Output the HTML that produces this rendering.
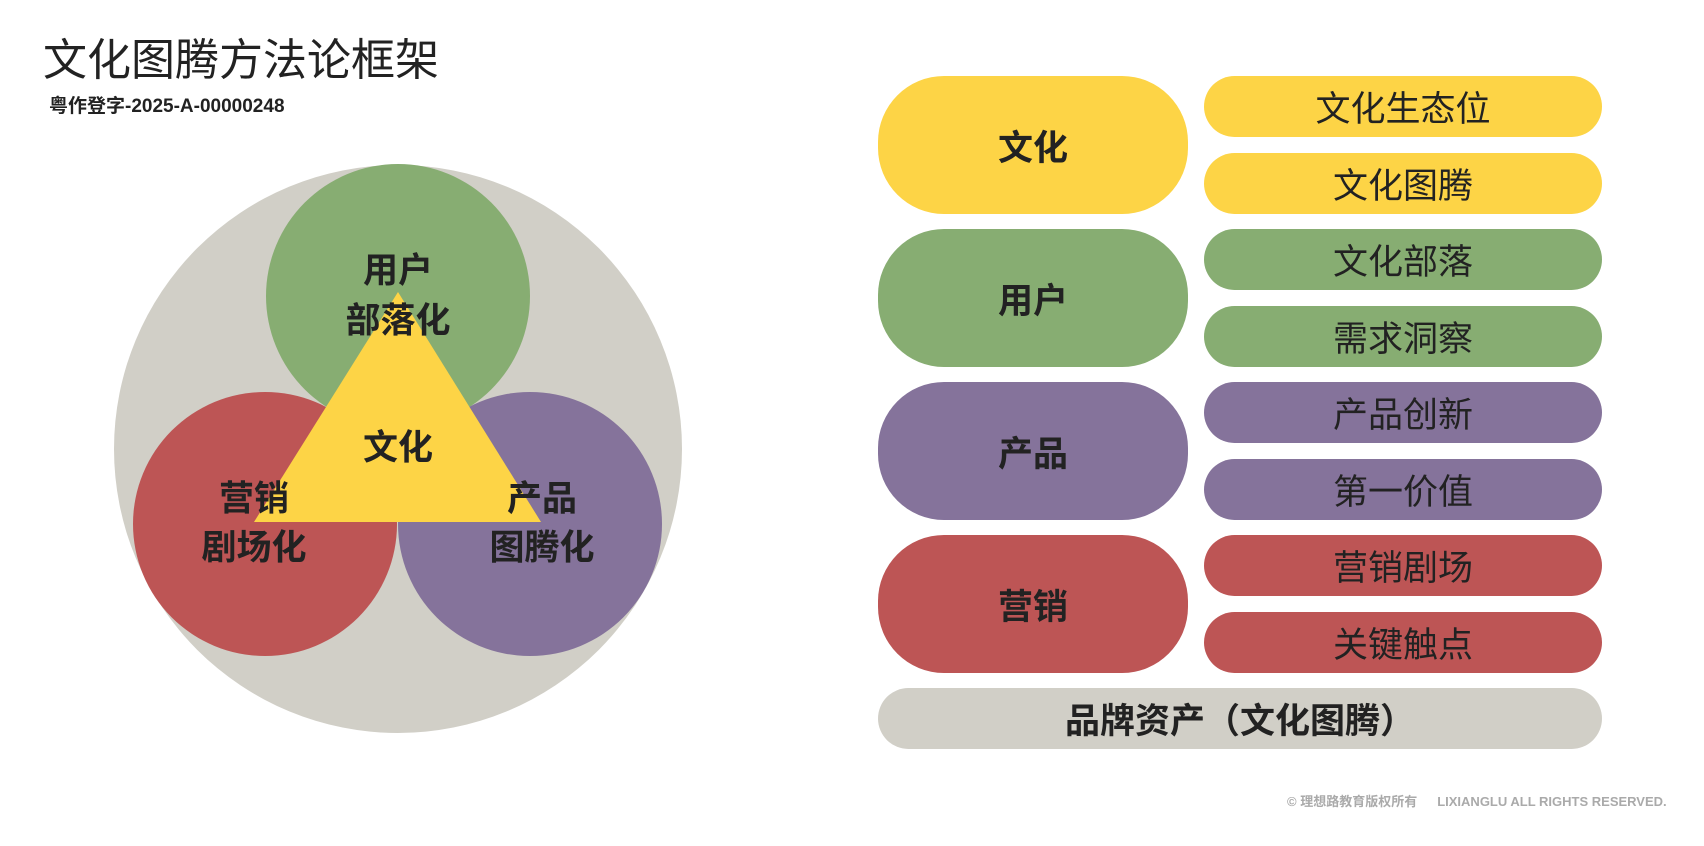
<!DOCTYPE html>
<html><head><meta charset="utf-8"><style>
body{margin:0;width:1704px;height:846px;background:#fff;position:relative;overflow:hidden;font-family:"Liberation Sans","Noto Sans CJK SC",sans-serif;color:#222}
.a{position:absolute}
.t{position:absolute;transform:translate(-50%,-50%);font-weight:bold;font-size:35px;white-space:nowrap;color:#222}
.big{position:absolute;left:878px;width:310px;height:138px;border-radius:66px;display:flex;align-items:center;justify-content:center;font-weight:bold;font-size:35px}
.sm{position:absolute;left:1204px;width:398px;height:61px;border-radius:31px;display:flex;align-items:center;justify-content:center;font-size:35px}
.y{background:#FDD446}.g{background:#87AD72}.p{background:#85739B}.r{background:#BD5555}
</style></head><body>
<div class="a" style="left:43px;top:24px;font-size:44px;">文化图腾方法论框架</div>
<div class="a" style="left:49px;top:91px;font-size:19px;font-weight:bold">粤作登字-2025-A-00000248</div>
<svg class="a" style="left:0;top:0" width="800" height="846">
<circle cx="398" cy="449" r="284" fill="#D1CFC7"/>
<circle cx="398" cy="296" r="132" fill="#87AD72"/>
<circle cx="265" cy="524" r="132" fill="#BD5555"/>
<circle cx="530" cy="524" r="132" fill="#85739B"/>
<polygon points="398,292 541,522 254,522" fill="#FDD446"/>
</svg>
<div class="t" style="left:398px;top:268px">用户</div>
<div class="t" style="left:398px;top:318px">部落化</div>
<div class="t" style="left:398px;top:445px">文化</div>
<div class="t" style="left:254px;top:496px">营销</div>
<div class="t" style="left:254px;top:545px">剧场化</div>
<div class="t" style="left:542px;top:496px">产品</div>
<div class="t" style="left:542px;top:545px">图腾化</div>
<div class="big y" style="top:76px">文化</div>
<div class="big g" style="top:229px">用户</div>
<div class="big p" style="top:382px">产品</div>
<div class="big r" style="top:535px">营销</div>
<div class="sm y" style="top:76px">文化生态位</div>
<div class="sm y" style="top:153px">文化图腾</div>
<div class="sm g" style="top:229px">文化部落</div>
<div class="sm g" style="top:306px">需求洞察</div>
<div class="sm p" style="top:382px">产品创新</div>
<div class="sm p" style="top:459px">第一价值</div>
<div class="sm r" style="top:535px">营销剧场</div>
<div class="sm r" style="top:612px">关键触点</div>
<div class="a" style="left:878px;top:688px;width:724px;height:61px;border-radius:31px;background:#D1CFC7;display:flex;align-items:center;justify-content:center;font-weight:bold;font-size:35px">品牌资产（文化图腾）</div>
<div class="a" style="left:1287px;top:791px;font-size:13px;font-weight:bold;color:#aaa;white-space:nowrap">© 理想路教育版权所有<span style="display:inline-block;width:20px"></span>LIXIANGLU ALL RIGHTS RESERVED.</div>
</body></html>
